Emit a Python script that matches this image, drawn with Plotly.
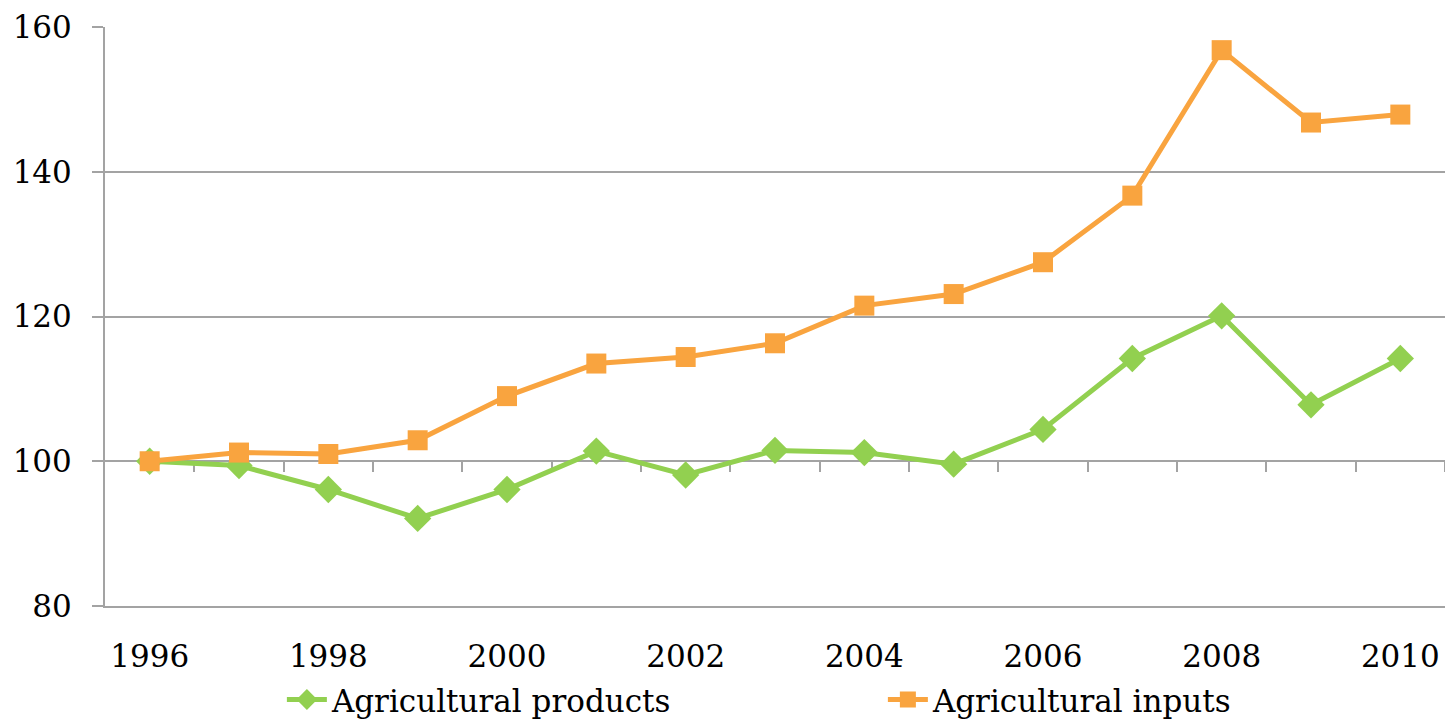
import plotly.graph_objects as go

# Price indices, 1996 = 100
years = list(range(1996, 2011))
products = [100.0, 99.4, 96.1, 92.1, 96.1, 101.4, 98.1, 101.5, 101.2, 99.6,
            104.4, 114.2, 120.1, 107.8, 114.2]
inputs = [100.0, 101.2, 101.0, 102.9, 109.0, 113.5, 114.4, 116.3, 121.5, 123.1,
          127.5, 136.7, 156.8, 146.8, 147.9]
label_years = years[::2]
y_ticks = [80, 100, 120, 140, 160]
base_level = 100

GREEN = "#92D050"
ORANGE = "#F9A43F"
GRID = "#A3A3A3"
FONT = "DejaVu Serif"

fig = go.Figure()
fig.add_trace(go.Scatter(
    x=years, y=products, name="Agricultural products", mode="lines+markers",
    line=dict(color=GREEN, width=5),
    marker=dict(symbol="diamond", size=21, color=GREEN),
))
fig.add_trace(go.Scatter(
    x=years, y=inputs, name="Agricultural inputs", mode="lines+markers",
    line=dict(color=ORANGE, width=5),
    marker=dict(symbol="square", size=20, color=ORANGE),
))
# Helper trace so the base-level category axis is drawn
fig.add_trace(go.Scatter(
    x=years, y=[None] * len(years), xaxis="x2", showlegend=False,
    hoverinfo="skip", mode="lines",
))

y_min, y_max = y_ticks[0], y_ticks[-1]
x_lo, x_hi = years[0] - 0.5, years[-1] + 0.5
boundaries = [y + 0.5 for y in years]

fig.update_layout(
    width=1445, height=720,
    margin=dict(l=105, r=0, t=27, b=114, autoexpand=False),
    paper_bgcolor="white", plot_bgcolor="white",
    font=dict(family=FONT, size=31, color="black"),
    xaxis=dict(
        range=[x_lo, x_hi], tickvals=label_years, ticktext=[str(v) for v in label_years],
        showgrid=False, zeroline=False, showline=True, linecolor=GRID, linewidth=2,
        ticks="", ticklabelstandoff=22,
    ),
    xaxis2=dict(
        range=[x_lo, x_hi], matches="x", overlaying="x", anchor="free",
        position=(base_level - y_min) / (y_max - y_min),
        tickvals=boundaries, showticklabels=False, showgrid=False, zeroline=False,
        showline=True, linecolor=GRID, linewidth=2,
        ticks="outside", ticklen=10, tickwidth=2, tickcolor=GRID, layer="below traces",
    ),
    yaxis=dict(
        range=[y_min, y_max], tickvals=y_ticks, showgrid=True, gridcolor=GRID, gridwidth=2,
        zeroline=False, showline=True, linecolor=GRID, linewidth=2,
        ticks="outside", ticklen=11, tickwidth=2, tickcolor=GRID, ticklabelstandoff=14,
    ),
    legend=dict(
        orientation="h", x=0.132, xanchor="left",
        yref="container", y=0.028, yanchor="middle",
        font=dict(family=FONT, size=31), entrywidth=546, entrywidthmode="pixels",
        itemwidth=40, bgcolor="rgba(0,0,0,0)",
    ),
    showlegend=True,
)

fig.write_html("out.html")
